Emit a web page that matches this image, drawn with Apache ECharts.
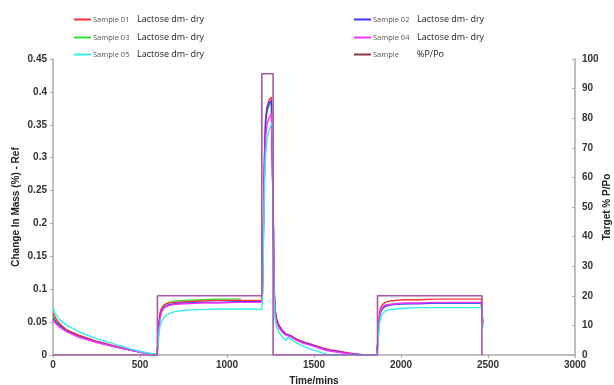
<!DOCTYPE html>
<html>
<head>
<meta charset="utf-8">
<title>DVS - Lactose dm- dry</title>
<script src="https://cdn.jsdelivr.net/npm/echarts@6/dist/echarts.min.js"></script>
<style>
  html, body { margin: 0; padding: 0; background: #fff; }
  #chart { width: 614px; height: 385px; }
</style>
</head>
<body>
<div id="chart"></div>
<script>
// time (mins) shared by the five sample curves
var times = [
  0, 15, 40, 80, 150, 250, 350, 450, 540, 598,
  603, 608, 615, 625, 640, 665, 700, 760, 850, 950, 1050, 1080, 1085, 1150, 1198,
  1203, 1207, 1211, 1216, 1222, 1230, 1242, 1255, 1264,
  1267, 1270, 1276, 1285, 1300, 1320, 1340, 1352, 1370, 1400, 1450, 1500, 1560, 1590, 1620, 1700, 1760, 1800, 1860,
  1868, 1872, 1878, 1885, 1895, 1910, 1935, 1970, 2020, 2100, 2200, 2300, 2400, 2462, 2466, 2470
];

var sample01 = [
  0.064, 0.056, 0.047, 0.038, 0.030, 0.021, 0.014, 0.008, 0.003, 0.000,
  0.020, 0.046, 0.063, 0.071, 0.076, 0.079, 0.080, 0.081, 0.082, 0.083, 0.083, 0.083, 0.083, 0.083, 0.083,
  0.090, 0.150, 0.230, 0.310, 0.360, 0.378, 0.388, 0.392, 0.394,
  0.200, 0.110, 0.070, 0.055, 0.045, 0.037, 0.032, 0.031, 0.029, 0.024, 0.019, 0.015, 0.010, 0.008, 0.007, 0.003, 0.001, 0.000, 0.000,
  0.025, 0.050, 0.066, 0.073, 0.077, 0.080, 0.082, 0.083, 0.084, 0.084, 0.085, 0.085, 0.085, 0.085, 0.065, 0.050
];
var sample02 = [
  0.056, 0.050, 0.044, 0.036, 0.028, 0.020, 0.013, 0.007, 0.002, 0.000,
  0.018, 0.042, 0.058, 0.067, 0.073, 0.076, 0.078, 0.079, 0.080, 0.080, 0.081, 0.081, 0.081, 0.081, 0.081,
  0.090, 0.150, 0.225, 0.305, 0.355, 0.373, 0.383, 0.387, 0.389,
  0.190, 0.105, 0.068, 0.053, 0.043, 0.036, 0.031, 0.030, 0.028, 0.023, 0.018, 0.014, 0.009, 0.007, 0.006, 0.002, 0.001, 0.000, 0.000,
  0.022, 0.045, 0.060, 0.067, 0.071, 0.074, 0.076, 0.077, 0.078, 0.078, 0.079, 0.079, 0.079, 0.079, 0.060, 0.045
];
var sample03 = [
  0.060, 0.053, 0.045, 0.037, 0.029, 0.020, 0.013, 0.007, 0.002, 0.000,
  0.022, 0.048, 0.064, 0.072, 0.077, 0.080, 0.082, 0.083, 0.084, 0.085, 0.085, 0.085, null, null, null,
  0.090, 0.148, 0.222, 0.302, 0.352, 0.370, 0.380, 0.384, 0.386,
  0.188, 0.104, 0.067, 0.052, 0.042, 0.035, 0.031, 0.030, 0.028, 0.023, 0.018, 0.014, 0.009, 0.007, 0.006, 0.002, 0.001, 0.000, 0.000,
  0.022, 0.046, 0.061, 0.068, 0.072, 0.075, 0.077, 0.078, 0.078, 0.079, 0.079, 0.079, 0.079, 0.079, 0.060, 0.047
];
var sample04 = [
  0.053, 0.048, 0.042, 0.035, 0.027, 0.019, 0.013, 0.007, 0.002, 0.000,
  0.016, 0.040, 0.056, 0.066, 0.072, 0.075, 0.077, 0.078, 0.079, 0.079, 0.080, 0.080, 0.080, 0.080, 0.080,
  0.088, 0.140, 0.210, 0.285, 0.330, 0.350, 0.361, 0.367, 0.370,
  0.185, 0.100, 0.064, 0.050, 0.041, 0.034, 0.030, 0.029, 0.027, 0.022, 0.017, 0.013, 0.008, 0.006, 0.005, 0.002, 0.000, 0.000, 0.000,
  0.023, 0.047, 0.062, 0.069, 0.073, 0.076, 0.077, 0.078, 0.079, 0.079, 0.080, 0.080, 0.080, 0.080, 0.062, 0.050
];
var sample05 = [
  0.072, 0.062, 0.053, 0.045, 0.035, 0.025, 0.017, 0.009, 0.003, 0.001,
  0.010, 0.030, 0.044, 0.052, 0.058, 0.063, 0.066, 0.068, 0.069, 0.070, 0.070, 0.070, 0.070, 0.070, 0.069,
  0.078, 0.125, 0.190, 0.260, 0.305, 0.328, 0.342, 0.350, 0.355,
  0.150, 0.085, 0.055, 0.043, 0.034, 0.027, 0.022, 0.027, 0.024, 0.018, 0.012, 0.007, 0.002, 0.000, 0.000, 0.000, 0.000, 0.000, 0.000,
  0.015, 0.035, 0.050, 0.058, 0.063, 0.067, 0.069, 0.070, 0.071, 0.072, 0.072, 0.072, 0.072, 0.072, 0.055, 0.040
];

// target %P/Po step profile
var rhTimes  = [0, 600, 600, 1200, 1200, 1265, 1265, 1865, 1865, 2465, 2465];
var rhValues = [0, 0, 20, 20, 95, 95, 0, 0, 20, 20, 0];

var xTicks = { min: 0, max: 3000, step: 500 };
var massTicks = { min: 0, max: 0.45, step: 0.05 };
var rhTicks = { min: 0, max: 100, step: 10 };

function pairs(xs, ys) {
  var out = [];
  for (var i = 0; i < xs.length; i++) {
    out.push([xs[i], ys[i] === null ? null : ys[i]]);
  }
  return out;
}

var samples = [
  // drawn first so it sits underneath the others
  { name: 'Sample 03|Lactose dm- dry', data: sample03, color: '#33dd33', left: 74, top: 33 },
  { name: 'Sample 01|Lactose dm- dry', data: sample01, color: '#ff3333', left: 74, top: 15 },
  { name: 'Sample 02|Lactose dm- dry', data: sample02, color: '#3a3aff', left: 354, top: 15 },
  { name: 'Sample 04|Lactose dm- dry', data: sample04, color: '#ff33ff', left: 354, top: 33 },
  { name: 'Sample 05|Lactose dm- dry', data: sample05, color: '#33eeee', left: 74, top: 50 }
];
var rhName = 'Sample|%P/Po';

var legendText = {
  icon: 'rect',
  itemWidth: 17,
  itemHeight: 2,
  itemGap: 0,
  padding: 0,
  formatter: function (name) {
    var p = name.split('|');
    return '{a|' + p[0] + '}{b|' + p[1] + '}';
  },
  textStyle: {
    padding: [0, 0, 0, -3],
    rich: {
      a: { fontFamily: 'Open Sans', fontSize: 7.5, color: '#555', width: 44 },
      b: { fontFamily: 'Open Sans', fontSize: 9, color: '#222' }
    }
  }
};

var legends = [];
var series = [];
samples.forEach(function (s) {
  legends.push(Object.assign({ data: [s.name], left: s.left, top: s.top }, legendText));
  series.push({
    name: s.name,
    type: 'line',
    data: pairs(times, s.data),
    showSymbol: false,
    symbol: 'none',
    connectNulls: false,
    color: s.color,
    lineStyle: { width: 1.4, color: s.color }
  });
});
legends.push(Object.assign({
  data: [{ name: rhName, itemStyle: { color: '#8b3b3b' } }],
  left: 354, top: 50
}, legendText));
series.push({
  name: rhName,
  type: 'line',
  yAxisIndex: 1,
  data: pairs(rhTimes, rhValues),
  showSymbol: false,
  symbol: 'none',
  color: '#8b3b3b',
  lineStyle: { width: 1.6, color: '#a958a9' }
});

var axisLabel = { fontFamily: 'Liberation Sans', fontSize: 10, fontWeight: 'bold', color: '#333' };
var axisName = { fontFamily: 'Liberation Sans', fontSize: 10, fontWeight: 'bold', color: '#222' };
var axisLine = { show: true, lineStyle: { color: '#aaa', width: 1.5 } };

var option = {
  animation: false,
  backgroundColor: '#fff',
  grid: { left: 53, right: 39, top: 59, bottom: 30, containLabel: false, outerBoundsMode: 'none' },
  legend: legends,
  xAxis: {
    type: 'value',
    min: xTicks.min, max: xTicks.max, interval: xTicks.step,
    name: 'Time/mins', nameLocation: 'middle', nameGap: 21, nameMoveOverlap: false,
    nameTextStyle: axisName,
    axisLine: axisLine,
    axisTick: { show: true, length: 3, lineStyle: { color: '#aaa' } },
    axisLabel: Object.assign({ margin: 5, formatter: function (v) { return String(v); } }, axisLabel),
    splitLine: { show: false }
  },
  yAxis: [
    {
      type: 'value',
      min: massTicks.min, max: massTicks.max, interval: massTicks.step,
      name: 'Change In Mass (%) - Ref', nameLocation: 'middle', nameGap: 32, nameMoveOverlap: false,
      nameTextStyle: axisName,
      axisLine: axisLine,
      axisTick: { show: true, length: 3, lineStyle: { color: '#aaa' } },
      axisLabel: Object.assign({ margin: 6, formatter: function (v) { return String(+v.toFixed(2)); } }, axisLabel),
      splitLine: { show: false }
    },
    {
      type: 'value',
      position: 'right',
      min: rhTicks.min, max: rhTicks.max, interval: rhTicks.step,
      name: 'Target % P/Po', nameLocation: 'middle', nameGap: 27, nameMoveOverlap: false,
      nameTextStyle: axisName,
      axisLine: axisLine,
      axisTick: { show: true, inside: true, length: 3, lineStyle: { color: '#aaa' } },
      axisLabel: Object.assign({ margin: 7 }, axisLabel),
      splitLine: { show: false }
    }
  ],
  series: series
};

var myChart = echarts.init(document.getElementById('chart'));
myChart.setOption(option);
</script>
</body>
</html>
